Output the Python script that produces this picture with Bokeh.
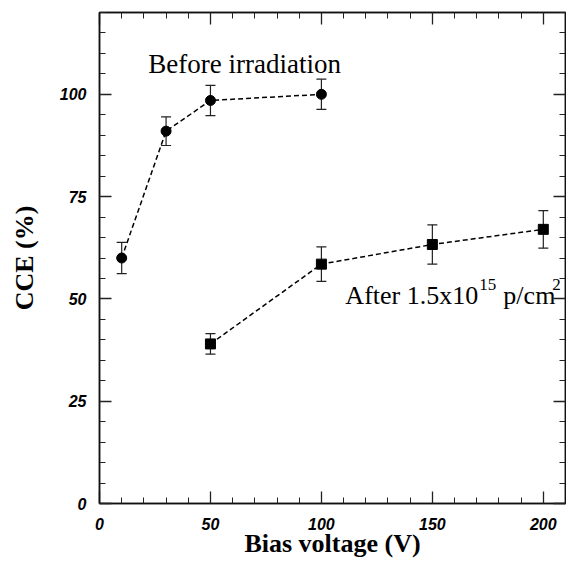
from bokeh.plotting import figure
from bokeh.models import (Range1d, LinearAxis, SingleIntervalTicker, Whisker,
                          TeeHead, ColumnDataSource, Label)
from bokeh.embed import file_html
from bokeh.resources import INLINE

# ---- data ----
before_v = [10, 30, 50, 100]
before_cce = [60.0, 91.0, 98.5, 100.0]
before_err = [3.8, 3.5, 3.7, 3.7]

after_v = [50, 100, 150, 200]
after_cce = [39.0, 58.5, 63.3, 67.0]
after_err = [2.5, 4.2, 4.8, 4.6]

x_title = "Bias voltage (V)"
y_title = "CCE (%)"
label_before = "Before irradiation"
label_after_parts = ["After 1.5x10", "15", "p/cm", "2"]

TICK_FONT = "Liberation Sans"
SERIF = "Liberation Serif"

p = figure(width=566, height=562, output_backend="svg", toolbar_location=None,
           x_range=Range1d(0, 210), y_range=Range1d(0, 120),
           min_border_left=99, min_border_top=12, min_border_right=1,
           min_border_bottom=59)
p.grid.visible = False
p.outline_line_color = "#111111"
p.outline_line_width = 1.5
p.background_fill_color = "white"
p.border_fill_color = "white"


def style_axis(ax, interval, labels=True):
    ax.ticker = SingleIntervalTicker(interval=interval, num_minor_ticks=5)
    ax.major_tick_in = 12
    ax.major_tick_out = 0
    ax.minor_tick_in = 6
    ax.minor_tick_out = 0
    ax.axis_line_color = "#111111"
    ax.axis_line_width = 1.5
    ax.major_tick_line_color = "#222222"
    ax.minor_tick_line_color = "#222222"
    ax.major_tick_line_width = 1.3
    ax.minor_tick_line_width = 1.0
    if labels:
        ax.major_label_text_font = TICK_FONT
        ax.major_label_text_font_style = "bold italic"
        ax.major_label_text_font_size = "16px"
        ax.major_label_text_color = "black"
    else:
        ax.major_label_text_font_size = "0px"
        ax.major_label_text_color = None
        ax.major_label_standoff = 0


xa = p.xaxis[0]
style_axis(xa, 50)
xa.major_label_standoff = 14
xa.axis_label = x_title
xa.axis_label_text_font = SERIF
xa.axis_label_text_font_style = "bold"
xa.axis_label_text_font_size = "26px"
xa.axis_label_text_color = "black"
xa.axis_label_standoff = -4

ya = p.yaxis[0]
style_axis(ya, 25)
ya.major_label_standoff = 13
ya.axis_label = y_title
ya.axis_label_text_font = SERIF
ya.axis_label_text_font_style = "bold"
ya.axis_label_text_font_size = "26px"
ya.axis_label_text_color = "black"
ya.axis_label_standoff = 18

top = LinearAxis()
style_axis(top, 50, labels=False)
p.add_layout(top, "above")
right = LinearAxis()
style_axis(right, 25, labels=False)
p.add_layout(right, "right")

src_b = ColumnDataSource(dict(
    x=before_v, y=before_cce,
    upper=[v + e for v, e in zip(before_cce, before_err)],
    lower=[v - e for v, e in zip(before_cce, before_err)]))
src_a = ColumnDataSource(dict(
    x=after_v, y=after_cce,
    upper=[v + e for v, e in zip(after_cce, after_err)],
    lower=[v - e for v, e in zip(after_cce, after_err)]))

for src in (src_b, src_a):
    p.add_layout(Whisker(source=src, base="x", upper="upper", lower="lower",
                         line_color="#222222", line_width=1.2,
                         upper_head=TeeHead(size=10, line_color="#222222", line_width=1.2),
                         lower_head=TeeHead(size=10, line_color="#222222", line_width=1.2)))

p.line("x", "y", source=src_b, line_dash="5 3", line_width=1.5, color="black")
p.line("x", "y", source=src_a, line_dash="5 3", line_width=1.5, color="black")
p.scatter("x", "y", source=src_b, marker="circle", size=10, color="black")
p.scatter("x", "y", source=src_a, marker="square", size=10, color="black")

p.add_layout(Label(x=22, y=107.4, text=label_before, text_font=SERIF,
                   text_font_size="27px", text_color="black",
                   text_baseline="alphabetic", text_align="left"))

ax0, ay0 = 110.8, 50.8
offs = [(0, 0, "26px"), (134, 11, "17px"), (158, 0, "26px"), (207, 11, "17px")]
for txt, (dx, dy, fs) in zip(label_after_parts, offs):
    p.add_layout(Label(x=ax0, y=ay0, x_offset=dx, y_offset=dy, text=txt,
                       text_font=SERIF, text_font_size=fs, text_color="black",
                       text_baseline="alphabetic", text_align="left"))

open("out.html", "w").write(file_html(p, INLINE))
